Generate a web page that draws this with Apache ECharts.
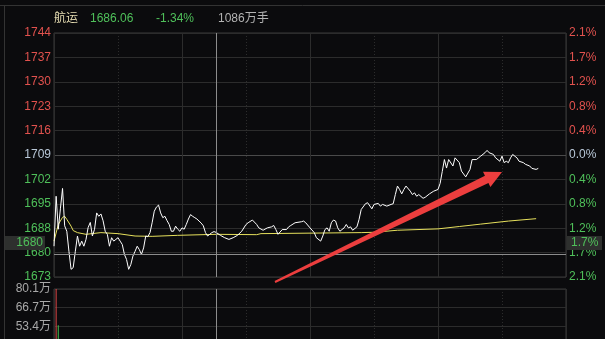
<!DOCTYPE html>
<html><head><meta charset="utf-8">
<script src="https://cdn.jsdelivr.net/npm/echarts@6/dist/echarts.min.js"></script>
<style>html,body{margin:0;padding:0;background:#0b0b0d;overflow:hidden}#c{width:605px;height:339px}</style>
</head><body><div id="c"></div>
<script>
// ---- data ----
const priceMinutes = [0,1,2,3,4,5,6,7,8,9,10,11,12,13,14,15,16,17,18,19,20,21,22,23,24,25,26,27,28,29,30,31,32,33,34,35,36,37,38,39,40,41,42,43,44,45,46,47,48,49,50,51,52,53,54,55,56,57,58,59,60,61,62,63,64,65,66,67,68,69,70,71,72,73,74,75,76,78,80,82,84,86,88,90,91,93,95,96,98,100,102,103,104,105,107,109,110,111,113,116,117,118,120,122,123,125,126,127,128,129,130,131,132,133,134,136,137,138,139,140,142,143,144,146,147,149,150,152,153,154,156,158,159,160,161,162,163,164,165,167,168,169,170,171,173,174,176,178,180,181,182,183,184,185,187,188,190,191,193,195,196,198,199,200,202,203,204,206,207,209,210,211,212,213,214,215,217,218,220,221,223,224,226,227];
const priceValues = [1682.0,1696.7,1687.0,1693.0,1699.0,1688.0,1686.4,1680.5,1675.2,1675.7,1680.5,1685.0,1682.0,1683.5,1682.0,1684.0,1687.5,1689.0,1685.0,1687.0,1691.8,1690.8,1691.5,1689.5,1686.4,1685.5,1682.0,1684.5,1683.5,1684.0,1684.5,1683.5,1682.5,1679.6,1678.1,1675.2,1676.6,1679.1,1680.5,1682.0,1681.0,1679.6,1681.5,1685.0,1684.8,1686.0,1688.9,1692.3,1693.5,1694.1,1691.8,1690.4,1690.8,1689.5,1688.4,1686.4,1686.4,1687.9,1687.0,1686.4,1687.4,1687.0,1688.4,1690.0,1691.3,1690.8,1690.4,1690.0,1689.4,1688.8,1688.0,1686.0,1685.0,1685.5,1686.0,1686.3,1686.06,1685.2,1684.5,1684.0,1684.5,1685.2,1686.4,1688.4,1688.9,1689.7,1688.4,1687.4,1686.7,1687.4,1687.7,1688.1,1686.9,1685.5,1686.9,1686.9,1687.7,1688.1,1688.9,1689.2,1689.4,1688.9,1687.4,1686.0,1684.5,1683.5,1685.0,1686.9,1687.4,1686.4,1688.9,1689.7,1689.4,1687.4,1686.4,1687.4,1688.4,1687.4,1687.7,1686.7,1687.7,1689.9,1692.8,1694.5,1694.8,1693.0,1694.3,1694.6,1693.8,1694.3,1693.8,1694.3,1694.5,1697.2,1699.7,1698.7,1697.4,1698.7,1699.7,1698.2,1697.2,1697.7,1696.7,1697.2,1696.1,1696.4,1697.4,1698.2,1698.7,1700.5,1704.0,1707.5,1705.0,1707.5,1705.6,1708.0,1706.6,1704.1,1702.4,1704.6,1707.5,1707.5,1708.0,1708.5,1709.5,1710.2,1709.5,1709.0,1708.0,1707.0,1708.5,1706.6,1707.0,1706.6,1708.0,1709.0,1708.0,1707.0,1706.6,1706.1,1705.6,1704.9,1704.6,1704.9];
const avgMinutes = [0,2,4,5,6,8,9,11,15,22,30,38,46,58,76,95,97,144,150,161,180,190,200,213,226];
const avgValues  = [1683.5,1688.4,1690.5,1690.8,1689.9,1687.9,1686.6,1686.0,1685.5,1686.0,1685.7,1685.0,1684.9,1685.2,1685.5,1685.4,1685.7,1686.0,1686.1,1686.7,1687.1,1687.8,1688.5,1689.4,1690.1];
const volMinutes = [1, 2];
const volValues  = [80.1, 54.0];
const volUp      = [true, false];
const priceTickLabels = ['1673','1680','1688','1695','1702','1709','1716','1723','1730','1737','1744'];
const pctTickLabels   = ['2.1%','1.7%','1.2%','0.8%','0.4%','0.0%','0.4%','0.8%','1.2%','1.7%','2.1%'];
const volTickLabels   = ['','','','','53.4万','66.7万','80.1万'];
const headerTexts = ['航运', '1686.06', '-1.34%', '1086万手'];
const crossMinute = 76;
const crossPrice = 1679.7;
const crossLabels = ['1680', '1.7%'];

// ---- axis scale ----
const P_STEP = 7.18, P_MIN = 233 * 7.18, P_MAX = 243 * 7.18; // prev close = 238 * 7.18
const V_STEP = 13.35, V_MAX = 80.1;
const FONT = '"Liberation Sans", Arial, "Noto Sans CJK SC", sans-serif';
const RED = '#e2524e', GREEN = '#4fc05a', NEUTRAL = '#b9c8d8';
const GRID_C = '#2c2c2c', BORDER_C = '#3a3a3a';

function pIdx(v){ return Math.round((v - P_MIN) / P_STEP); }
function idxColor(i){ return i > 5 ? RED : (i === 5 ? NEUTRAL : GREEN); }

const chart = echarts.init(document.getElementById('c'), null, {renderer: 'canvas'});
const hSplitColors = priceTickLabels.map((_, i) => i === 5 ? '#4a4a4a' : GRID_C);

const xBase = (grid, interval, dotted) => ({
  gridIndex: grid, type: 'value', min: 0, max: 240, interval: interval,
  axisLine: {show: false}, axisTick: {show: false}, axisLabel: {show: false},
  splitLine: {show: true, lineStyle: {color: GRID_C, width: 1, type: dotted ? [1, 2] : 'solid'}}
});

const option = {
  animation: false,
  backgroundColor: '#0b0b0d',
  grid: [
    {left: 54, right: 39, top: 33, height: 244, show: true, borderColor: BORDER_C, borderWidth: 1, backgroundColor: 'transparent', containLabel: false, outerBoundsMode: 'none'},
    {left: 54, right: 39, top: 289, height: 111.6, show: true, borderColor: BORDER_C, borderWidth: 1, backgroundColor: 'transparent', containLabel: false, outerBoundsMode: 'none'}
  ],
  xAxis: [xBase(0, 60, false), xBase(0, 30, true), xBase(1, 60, false), xBase(1, 30, true)],
  yAxis: [
    {gridIndex: 0, type: 'value', min: P_MIN, max: P_MAX, interval: P_STEP, position: 'left',
     axisLine: {show: false}, axisTick: {show: false},
     axisLabel: {margin: 3, fontSize: 12, fontFamily: FONT, showMinLabel: true, showMaxLabel: true,
       formatter: v => priceTickLabels[pIdx(v)] || '', color: v => idxColor(pIdx(v))},
     splitLine: {show: true, lineStyle: {color: hSplitColors}}},
    {gridIndex: 0, type: 'value', min: P_MIN, max: P_MAX, interval: P_STEP, position: 'right',
     axisLine: {show: false}, axisTick: {show: false},
     axisLabel: {margin: 3, fontSize: 12, fontFamily: FONT, showMinLabel: true, showMaxLabel: true,
       formatter: v => pctTickLabels[pIdx(v)] || '', color: v => idxColor(pIdx(v))},
     splitLine: {show: false}},
    {gridIndex: 1, type: 'value', min: 0, max: V_MAX, interval: V_STEP, position: 'left',
     axisLine: {show: false}, axisTick: {show: false},
     axisLabel: {margin: 3, fontSize: 12, fontFamily: FONT, color: '#a9a9a9', showMaxLabel: true,
       formatter: v => volTickLabels[Math.round(v / V_STEP)] || ''},
     splitLine: {show: true, lineStyle: {color: GRID_C}}}
  ],
  series: [
    {type: 'line', xAxisIndex: 0, yAxisIndex: 0, showSymbol: false, symbol: 'none',
     data: avgMinutes.map((m, i) => [m, avgValues[i]]),
     lineStyle: {color: '#e6e05c', width: 1}, z: 3},
    {type: 'line', xAxisIndex: 0, yAxisIndex: 0, showSymbol: false, symbol: 'none',
     data: priceMinutes.map((m, i) => [m, priceValues[i]]),
     lineStyle: {color: '#ffffff', width: 1}, z: 4,
     markLine: {silent: true, symbol: 'none', label: {show: false},
       lineStyle: {color: '#8c8c8c', type: 'solid', width: 1},
       data: [{xAxis: crossMinute}, {yAxis: crossPrice}]}},
    {type: 'bar', xAxisIndex: 2, yAxisIndex: 2, barWidth: 1,
     data: volMinutes.map((m, i) => ({value: [m, volValues[i]], itemStyle: {color: volUp[i] ? '#e04848' : '#3fbf4f'}})),
     markLine: {silent: true, symbol: 'none', label: {show: false},
       lineStyle: {color: '#8c8c8c', type: 'solid', width: 1},
       data: [{xAxis: crossMinute}]}}
  ]
};
chart.setOption(option);

// ---- decorations: header, crosshair boxes, frame, arrow annotation ----
const yCross = chart.convertToPixel({yAxisIndex: 0}, crossPrice);
const tail = [275, 282], tip = [502, 172];
const dx = tip[0] - tail[0], dy = tip[1] - tail[1], L = Math.hypot(dx, dy);
const d = [dx / L, dy / L], n = [-d[1], d[0]];
const B = [tip[0] - d[0] * 17, tip[1] - d[1] * 17];
const pt = (p, k) => [p[0] + n[0] * k, p[1] + n[1] * k];
const arrowPts = [pt(tail, 1), pt(B, 4), pt(B, 8.5), tip, pt(B, -8.5), pt(B, -4), pt(tail, -1)];

const txt = (text, x, color, align) => ({type: 'text', style: {text: text, x: x, y: 19, fill: color, font: '12px ' + FONT, textAlign: align || 'left', textVerticalAlign: 'middle', verticalAlign: 'middle'}});

chart.setOption({graphic: [
  {type: 'line', shape: {x1: 0, y1: 5.5, x2: 605, y2: 5.5}, style: {stroke: '#333', lineWidth: 1}, silent: true},
  {type: 'line', shape: {x1: 4.5, y1: 5, x2: 4.5, y2: 339}, style: {stroke: '#333', lineWidth: 1}, silent: true},
  txt(headerTexts[0], 54, '#e6ddb2'),
  txt(headerTexts[1], 90, GREEN),
  txt(headerTexts[2], 156, GREEN),
  txt(headerTexts[3], 218, '#b3b3b3'),
  {type: 'rect', shape: {x: 5, y: yCross - 18, width: 40, height: 14}, style: {fill: '#2e302e'}, z: 10},
  {type: 'text', z: 11, style: {text: crossLabels[0], x: 43, y: yCross - 11, fill: GREEN, font: '12px ' + FONT, textAlign: 'right', textVerticalAlign: 'middle', verticalAlign: 'middle'}},
  {type: 'rect', shape: {x: 567, y: yCross - 18, width: 35, height: 14}, style: {fill: '#2e302e'}, z: 10},
  {type: 'text', z: 11, style: {text: crossLabels[1], x: 571, y: yCross - 11, fill: GREEN, font: '12px ' + FONT, textAlign: 'left', textVerticalAlign: 'middle', verticalAlign: 'middle'}},
  {type: 'polygon', z: 20, shape: {points: arrowPts}, style: {fill: '#ec3e3e'}, silent: true}
]});
</script>
</body></html>
